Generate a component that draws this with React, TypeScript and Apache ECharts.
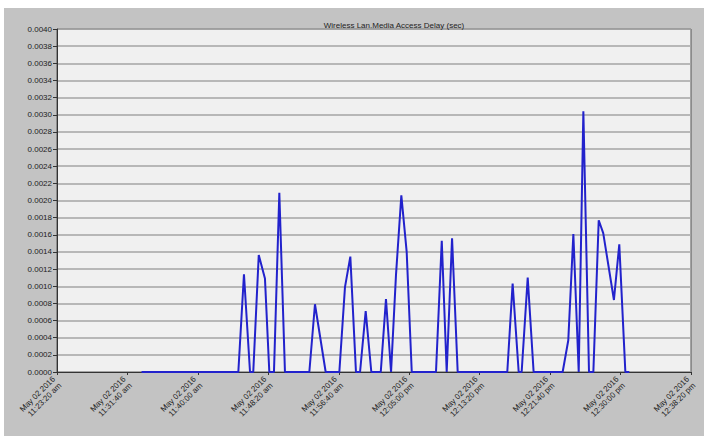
import React, { useEffect, useRef } from "react";
import * as echarts from "echarts";

const chartTitle = "Wireless Lan.Media Access Delay (sec)";
const dateLabel = "May 02 2016";
const axisStart = "11:23:20";
const axisEnd = "12:38:20";
const tickStepSec = 500;
const yMax = 0.004;
const yStep = 0.0002;

const sampleTimes = [
  "11:33:20", "11:44:47", "11:45:27", "11:46:10", "11:46:33", "11:47:12", "11:47:56",
  "11:48:27", "11:49:00", "11:49:38", "11:50:18", "11:53:11", "11:53:51", "11:55:07",
  "11:56:44", "11:57:24", "11:58:02", "11:58:42", "11:59:11", "11:59:51", "12:00:31",
  "12:01:38", "12:02:15", "12:02:51", "12:03:26", "12:04:04", "12:04:42", "12:05:18",
  "12:08:10", "12:08:51", "12:09:26", "12:10:04", "12:10:44", "12:16:36", "12:17:14",
  "12:17:57", "12:18:18", "12:19:01", "12:19:43", "12:23:09", "12:23:49", "12:24:25",
  "12:25:03", "12:25:36", "12:26:16", "12:26:47", "12:27:25", "12:27:57", "12:29:13",
  "12:29:51", "12:30:34", "12:31:02",
];
const delayValues = [
  0, 0, 0.00114, 0, 0, 0.001365, 0.00109,
  0, 0, 0.00209, 0, 0, 0.00079, 0,
  0, 0.00099, 0.001345, 0, 0, 0.00071, 0,
  0, 0.00085, 0, 0.00113, 0.00206, 0.0014, 0,
  0, 0.00153, 0, 0.00156, 0, 0, 0.00103,
  0, 0, 0.0011, 0, 0, 0.00037, 0.00161,
  0, 0.00304, 0, 0, 0.00177, 0.00162, 0.00084,
  0.00149, 0, 0,
];

function toSec(s: string): number {
  const [h, m, sec] = s.split(":").map(Number);
  return h * 3600 + m * 60 + sec;
}
function pad(n: number): string {
  return n < 10 ? "0" + n : String(n);
}
function fmtTime(v: number): string {
  const h = Math.floor(v / 3600);
  const m = Math.floor((v % 3600) / 60);
  const s = Math.round(v % 60);
  const ampm = h >= 12 ? "pm" : "am";
  const h12 = h > 12 ? h - 12 : h;
  return `${dateLabel}\n${h12}:${pad(m)}:${pad(s)} ${ampm}`;
}

export default function App() {
  const ref = useRef<HTMLDivElement>(null);
  useEffect(() => {
    if (!ref.current) return;
    const chart = echarts.init(ref.current, undefined, { renderer: "svg" });
    const font = "'Liberation Sans', Arial, sans-serif";
    chart.setOption({
      animation: false,
      backgroundColor: "#ffffff",
      textStyle: { fontFamily: font },
      graphic: [
        {
          type: "rect",
          z: -10,
          shape: { x: 4, y: 8, width: 700, height: 428 },
          style: { fill: "#c3c3c3" },
          silent: true,
        },
      ],
      title: {
        text: chartTitle,
        left: 389,
        top: 16,
        textAlign: "center",
        textStyle: { fontSize: 8, fontWeight: "normal", color: "#222", fontFamily: font },
      },
      grid: {
        left: 57,
        right: 13,
        top: 29,
        bottom: 66,
        show: true,
        backgroundColor: "#f0f0f0",
        borderColor: "#555",
        borderWidth: 1,
      },
      xAxis: {
        type: "value",
        min: toSec(axisStart),
        max: toSec(axisEnd),
        interval: tickStepSec,
        splitLine: { show: false },
        axisLine: { show: true, lineStyle: { color: "#333", width: 1 } },
        axisTick: { show: true, length: 3, lineStyle: { color: "#333" } },
        axisLabel: {
          rotate: 45,
          fontSize: 8,
          color: "#222",
          margin: 9,
          lineHeight: 9,
          verticalAlign: "middle",
          fontFamily: font,
          formatter: (v: number) => fmtTime(v),
        },
      },
      yAxis: {
        type: "value",
        min: 0,
        max: yMax,
        interval: yStep,
        axisLine: { show: true, lineStyle: { color: "#333", width: 1 } },
        axisTick: { show: true, length: 4, lineStyle: { color: "#333" } },
        splitLine: { show: true, lineStyle: { color: "#a4a4a4", width: 1.5 } },
        axisLabel: {
          fontSize: 8,
          color: "#222",
          margin: 5,
          fontFamily: font,
          formatter: (v: number) => v.toFixed(4),
        },
      },
      series: [
        {
          type: "line",
          data: sampleTimes.map((t, i) => [toSec(t), delayValues[i]]),
          showSymbol: false,
          symbol: "none",
          lineStyle: { color: "#2222cc", width: 2 },
          clip: true,
        },
      ],
    });
    return () => chart.dispose();
  }, []);
  return (
    <div
      ref={ref}
      style={{ position: "fixed", left: 0, top: 0, width: 704, height: 438, background: "#fff" }}
    />
  );
}
